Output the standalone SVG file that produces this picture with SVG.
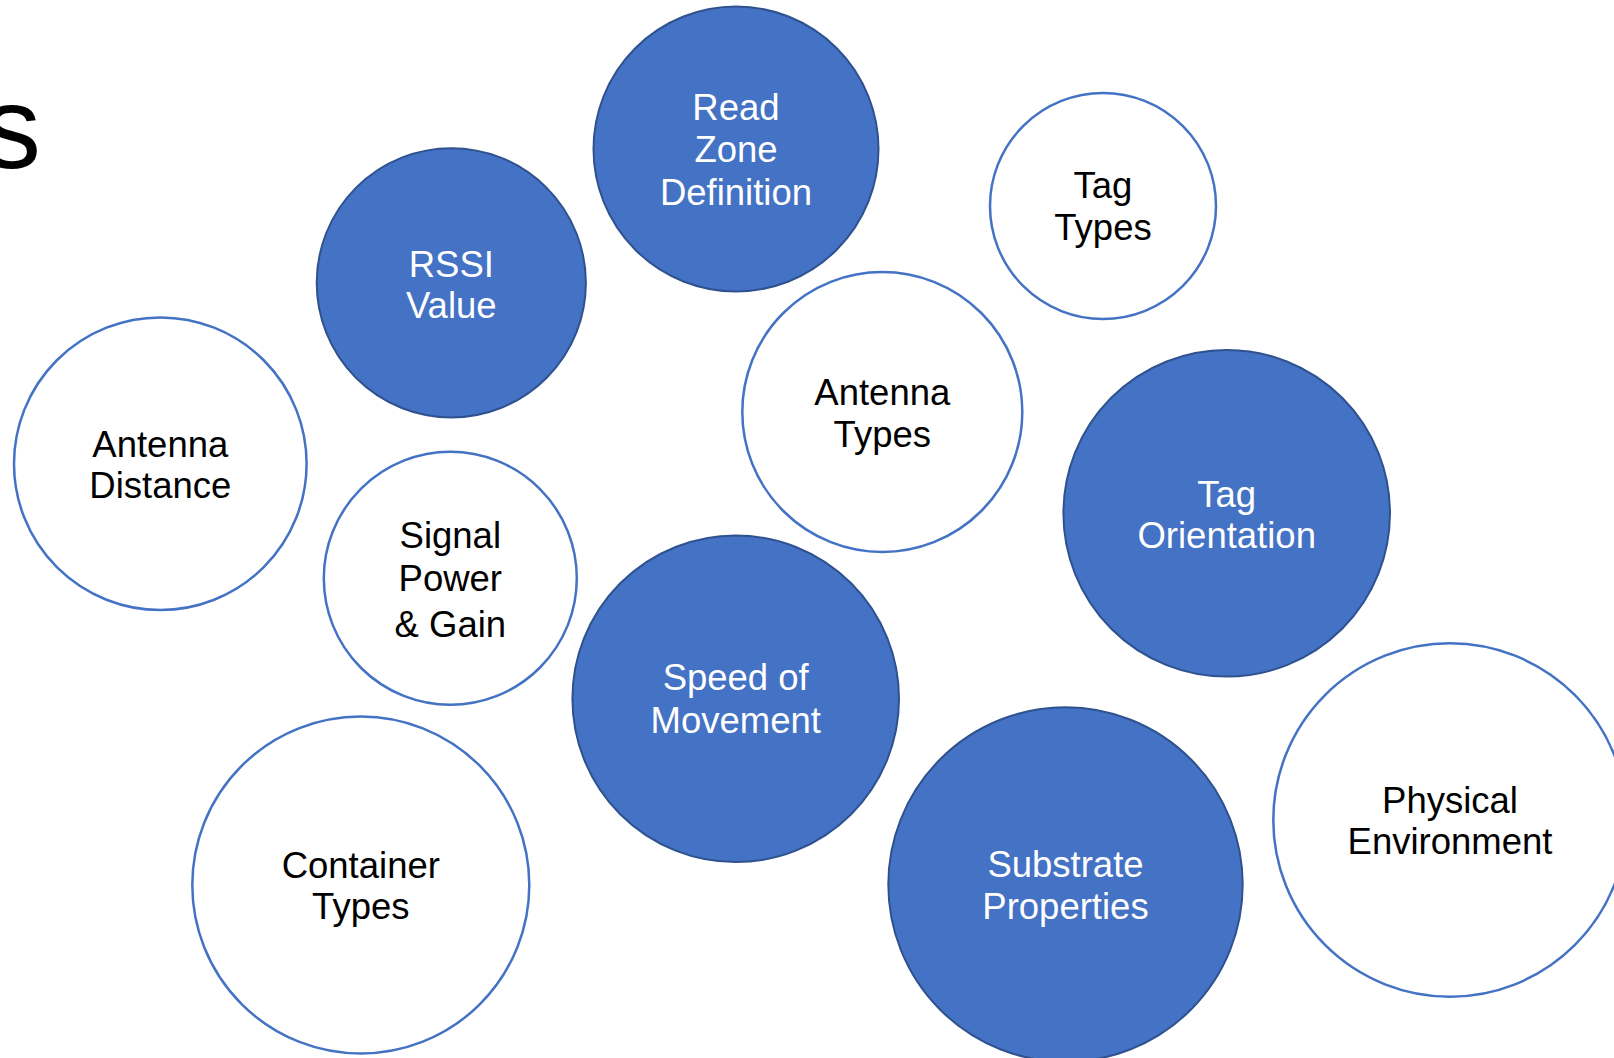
<svg xmlns="http://www.w3.org/2000/svg" width="1614" height="1058" viewBox="0 0 1614 1058">
<style>
.filled{fill:#4472C4;stroke:#2F528F;stroke-width:2}
.open{fill:#FFFFFF;stroke:#4472C4;stroke-width:2.5}
.lbl{font-family:"Liberation Sans",Arial,sans-serif;font-size:36.5px;text-anchor:middle}
.w{fill:#FFFFFF}
.k{fill:#000000}
</style>
<rect x="0" y="0" width="1614" height="1058" fill="#FFFFFF"/>
<text x="41" y="168" font-family="Liberation Sans, Arial, sans-serif" font-size="116" text-anchor="end" fill="#000000">s</text>
<g id="connectors"></g>
<g id="read-zone">
<circle class="filled" cx="736" cy="149" r="142.5"/>
<text class="lbl w" x="736" y="120">Read</text>
<text class="lbl w" x="736" y="162.3">Zone</text>
<text class="lbl w" x="736" y="205">Definition</text>
</g>
<g id="tag-types">
<circle class="open" cx="1103" cy="206" r="113"/>
<text class="lbl k" x="1103" y="198.3">Tag</text>
<text class="lbl k" x="1103" y="240">Types</text>
</g>
<g id="rssi">
<circle class="filled" cx="451.3" cy="282.8" r="134.6"/>
<text class="lbl w" x="451.3" y="276.7">RSSI</text>
<text class="lbl w" x="451.3" y="318.3">Value</text>
</g>
<g id="antenna-distance">
<circle class="open" cx="160.3" cy="463.7" r="146.3"/>
<text class="lbl k" x="160.3" y="456.7">Antenna</text>
<text class="lbl k" x="160.3" y="498.3">Distance</text>
</g>
<g id="antenna-types">
<circle class="open" cx="882.3" cy="412" r="140"/>
<text class="lbl k" x="882.3" y="405">Antenna</text>
<text class="lbl k" x="882.3" y="446.7">Types</text>
</g>
<g id="signal-power">
<circle class="open" cx="450.3" cy="578.3" r="126.5"/>
<text class="lbl k" x="450.3" y="547.7">Signal</text>
<text class="lbl k" x="450.3" y="590.7">Power</text>
<text class="lbl k" x="450.3" y="636.7">&amp; Gain</text>
</g>
<g id="tag-orientation">
<circle class="filled" cx="1226.7" cy="513.3" r="163.3"/>
<text class="lbl w" x="1226.7" y="506.7">Tag</text>
<text class="lbl w" x="1226.7" y="548.3">Orientation</text>
</g>
<g id="speed">
<circle class="filled" cx="735.7" cy="698.8" r="163.3"/>
<text class="lbl w" x="735.7" y="690">Speed of</text>
<text class="lbl w" x="735.7" y="733.3">Movement</text>
</g>
<g id="container-types">
<circle class="open" cx="360.8" cy="885" r="168.5"/>
<text class="lbl k" x="360.8" y="877.7">Container</text>
<text class="lbl k" x="360.8" y="919.3">Types</text>
</g>
<g id="substrate">
<circle class="filled" cx="1065.5" cy="884.5" r="177.2"/>
<text class="lbl w" x="1065.5" y="876.7">Substrate</text>
<text class="lbl w" x="1065.5" y="919.3">Properties</text>
</g>
<g id="physical-environment">
<circle class="open" cx="1450" cy="820" r="176.7"/>
<text class="lbl k" x="1450" y="812.7">Physical</text>
<text class="lbl k" x="1450" y="854">Environment</text>
</g>
</svg>
